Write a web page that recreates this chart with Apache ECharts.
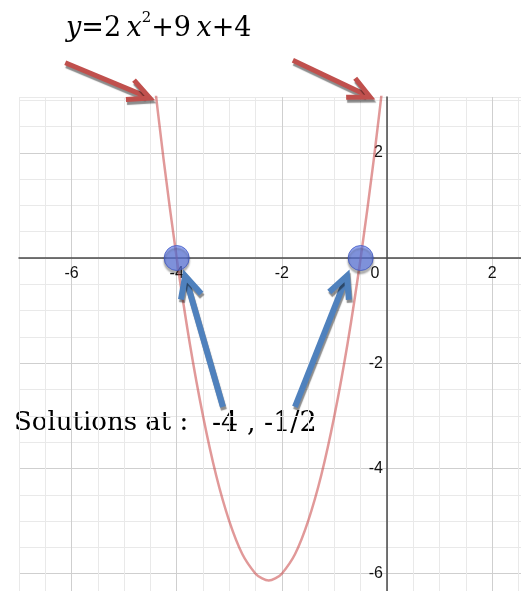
<!DOCTYPE html>
<html>
<head>
<meta charset="utf-8">
<script src="https://cdn.jsdelivr.net/npm/echarts@6/dist/echarts.min.js"></script>
<style>
  html, body { margin: 0; padding: 0; background: #fff; }
  #chart { width: 521px; height: 591px; }
</style>
</head>
<body>
<div id="chart"></div>
<script>
const curveX = [-4.5, -4.25, -4, -3.75, -3.5, -3.25, -3, -2.75, -2.5, -2.375, -2.25, -2.125, -2, -1.75, -1.5, -1.25, -1, -0.75, -0.5, -0.25, 0];
const curveY = [4, 1.88, 0, -1.63, -3, -4.13, -5, -5.63, -6, -6.09, -6.13, -6.09, -6, -5.63, -5, -4.13, -3, -1.63, 0, 1.88, 4];
// the two marked roots
const rootX = [-4, -0.5];
const rootY = [0, 0];
// annotation arrows: tail x, tail y, tip x, tip y (data units)
const redArrows = [[-6.12, 3.71, -4.51, 3.04], [-1.79, 3.76, -0.32, 3.06]];
const blueArrows = [[-3.12, -2.83, -3.84, -0.34], [-1.75, -2.83, -0.76, -0.34]];
// axis tick labels shown
const xLabels = [-6, -4, -2, 0, 2];
const yLabels = [-6, -4, -2, 2];

// plot window
const xMin = -7, xMax = 2.55, yMin = -6.5, yMax = 3.06;
const gLeft = 19, gTop = 97, gW = 502, gH = 503;
// move the axes onto x = 0 / y = 0
const xAxisOffset = -(gH - (yMax / (yMax - yMin)) * gH);
const yAxisOffset = -((-xMin) / (xMax - xMin)) * gW;

const chart = echarts.init(document.getElementById('chart'));

function arrowItem(lineW, color) {
  return function (params, api) {
    const a = api.coord([api.value(0), api.value(1)]);
    const b = api.coord([api.value(2), api.value(3)]);
    const dx = b[0] - a[0], dy = b[1] - a[1];
    const len = Math.sqrt(dx * dx + dy * dy);
    const ux = dx / len, uy = dy / len;
    const back = Math.atan2(-uy, -ux);
    const armLen = 24, ang = 26 * Math.PI / 180;
    const arm1 = [b[0] + armLen * Math.cos(back + ang), b[1] + armLen * Math.sin(back + ang)];
    const arm2 = [b[0] + armLen * Math.cos(back - ang), b[1] + armLen * Math.sin(back - ang)];
    const shaftEnd = [b[0] - ux * 5, b[1] - uy * 5];
    const st = {
      stroke: color, lineWidth: lineW, fill: null, lineJoin: 'miter',
      shadowColor: 'rgba(0,0,0,0.45)', shadowBlur: 1, shadowOffsetX: 1, shadowOffsetY: 3
    };
    return {
      type: 'group',
      children: [
        { type: 'line', shape: { x1: a[0], y1: a[1], x2: shaftEnd[0], y2: shaftEnd[1] }, style: st },
        { type: 'polyline', shape: { points: [arm1, b, arm2] }, style: st }
      ]
    };
  };
}

const minorC = '#e9e9e9', majorC = '#cfcfcf';

const option = {
  backgroundColor: '#fff',
  animation: false,
  grid: { left: gLeft, top: gTop, width: gW, height: gH, outerBoundsMode: 'none', containLabel: false },
  xAxis: {
    type: 'value', min: xMin, max: xMax, interval: 0.5,
    position: 'bottom', offset: xAxisOffset,
    axisLine: { onZero: false, lineStyle: { color: '#4a4a4a', width: 1.5 } },
    axisTick: { show: false },
    axisLabel: {
      margin: 8, color: '#111', fontSize: 16, fontFamily: 'Liberation Sans',
      formatter: function (v) {
        if (!xLabels.some(t => Math.abs(t - v) < 1e-9)) return '';
        return v === 0 ? '{z|0}' : String(v);
      },
      rich: { z: { fontSize: 16, fontFamily: 'Liberation Sans', color: '#111', padding: [0, 24, 0, 0] } }
    },
    splitLine: { show: true, lineStyle: { color: [minorC, minorC, majorC, minorC], width: 1 } }
  },
  yAxis: {
    type: 'value', min: yMin, max: yMax, interval: 0.5,
    position: 'left', offset: yAxisOffset,
    axisLine: { onZero: false, lineStyle: { color: '#4a4a4a', width: 1.5 } },
    axisTick: { show: false },
    axisLabel: {
      margin: 4, color: '#111', fontSize: 16, fontFamily: 'Liberation Sans',
      formatter: function (v) {
        return yLabels.some(t => Math.abs(t - v) < 1e-9) ? String(v) : '';
      }
    },
    splitLine: { show: true, lineStyle: { color: [minorC, majorC, minorC, minorC], width: 1 } }
  },
  series: [
    {
      type: 'line', smooth: 0.3, symbol: 'none', clip: true,
      data: curveX.map((x, i) => [x, curveY[i]]),
      lineStyle: { color: 'rgba(200,70,70,0.55)', width: 2.5 },
      z: 3
    },
    {
      type: 'scatter', symbolSize: 25,
      data: rootX.map((x, i) => [x, rootY[i]]),
      itemStyle: {
        color: 'rgba(95,125,240,0.8)', borderColor: '#4058c0', borderWidth: 1,
        shadowColor: 'rgba(0,0,0,0.45)', shadowBlur: 2, shadowOffsetY: 3
      },
      z: 4
    },
    {
      type: 'custom', clip: false, encode: { x: [0, 2], y: [1, 3] },
      renderItem: arrowItem(5, '#c0504d'), data: redArrows, z: 5
    },
    {
      type: 'custom', clip: false, encode: { x: [0, 2], y: [1, 3] },
      renderItem: arrowItem(6, '#4f81bd'), data: blueArrows, z: 5
    }
  ],
  graphic: [
    {
      type: 'text', left: 66, top: 11,
      style: {
        text: '{it|y}{n|=2\u2009}{it|x}{sup|2}{n|+9\u2009}{it|x}{n|+4}',
        rich: {
          it: { fontFamily: 'DejaVu Serif', fontStyle: 'italic', fontSize: 27, color: '#000', lineHeight: 36 },
          n: { fontFamily: 'DejaVu Serif', fontSize: 27, color: '#000', lineHeight: 36 },
          sup: { fontFamily: 'DejaVu Serif', fontSize: 15, color: '#000', verticalAlign: 'top', lineHeight: 36 }
        }
      }
    },
    {
      type: 'text', left: 14, top: 410,
      style: { text: 'Solutions at :', fontFamily: 'DejaVu Serif', fontSize: 26, fill: '#000' }
    },
    {
      type: 'text', left: 212, top: 410,
      style: { text: '-4 , -1/2', fontFamily: 'DejaVu Serif', fontSize: 27, fill: '#000' }
    }
  ]
};

chart.setOption(option);
</script>
</body>
</html>
